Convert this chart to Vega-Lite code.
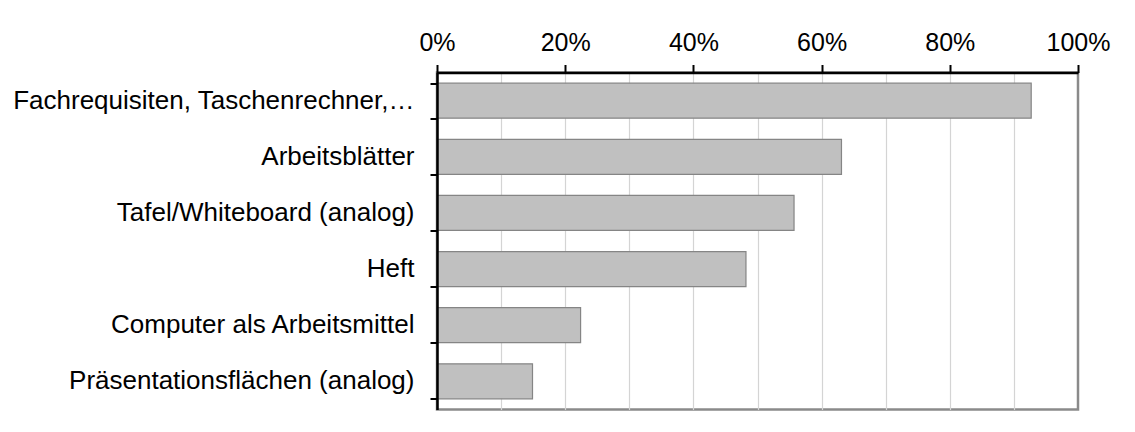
{
  "$schema": "https://vega.github.io/schema/vega-lite/v6.json",
  "width": 641,
  "height": 337,
  "autosize": {"type": "none"},
  "padding": {"left": 437, "top": 72.5, "right": 57, "bottom": 22.5},
  "background": "white",
  "config": {
    "font": "Liberation Sans",
    "view": {"stroke": "#8a8a8a", "strokeWidth": 2.5},
    "axis": {"labelFont": "Liberation Sans", "labelFontSize": 25, "labelColor": "black", "title": null, "labelLimit": 0}
  },
  "data": {
    "values": [
      {"item": "Fachrequisiten, Taschenrechner,…", "share": 0.927},
      {"item": "Arbeitsblätter", "share": 0.631},
      {"item": "Tafel/Whiteboard (analog)", "share": 0.557},
      {"item": "Heft", "share": 0.482},
      {"item": "Computer als Arbeitsmittel", "share": 0.224},
      {"item": "Präsentationsflächen (analog)", "share": 0.149}
    ]
  },
  "resolve": {"axis": {"x": "independent", "y": "independent"}},
  "layer": [
    {
      "mark": {"type": "bar", "opacity": 0},
      "encoding": {
        "y": {"field": "item", "type": "nominal", "sort": null,
          "scale": {"paddingInner": 0.377, "paddingOuter": 0.19},
          "axis": {"orient": "left", "labels": false, "ticks": false, "domain": false, "grid": false}},
        "x": {"field": "share", "type": "quantitative",
          "scale": {"domain": [0, 1], "nice": false},
          "axis": {"orient": "top", "values": [0.1, 0.3, 0.5, 0.7, 0.9, 0.2, 0.4, 0.6, 0.8], "grid": true, "gridColor": "#d4d4d4", "gridWidth": 1.2, "labels": false, "ticks": false, "domain": false, "zindex": 0}}
      }
    },
    {
      "mark": {"type": "bar", "fill": "#c0c0c0", "stroke": "#858585", "strokeWidth": 1.2},
      "encoding": {
        "y": {"field": "item", "type": "nominal", "sort": null,
          "axis": {"orient": "left", "ticks": true, "tickBand": "extent", "tickSize": 7, "tickWidth": 2, "tickColor": "black", "labels": false, "domain": true, "domainColor": "black", "domainWidth": 2.5, "grid": false, "zindex": 2}},
        "x": {"field": "share", "type": "quantitative",
          "axis": {"orient": "top", "values": [0, 0.2, 0.4, 0.6, 0.8, 1], "format": "~%", "grid": false, "tickSize": 8, "tickWidth": 2, "tickColor": "black", "domain": true, "domainColor": "black", "domainWidth": 2.5, "labelPadding": 9, "labelFlush": false, "labelFontSize": 25, "labelFont": "Liberation Sans", "zindex": 2}}
      }
    },
    {
      "mark": {"type": "bar", "opacity": 0},
      "encoding": {
        "y": {"field": "item", "type": "nominal", "sort": null,
          "axis": {"orient": "left", "ticks": false, "tickSize": 0, "labelPadding": 23, "labelLimit": 0, "labelFontSize": 26, "labelFont": "Liberation Sans", "domain": false, "grid": false, "zindex": 2,
            "encode": {"labels": {"update": {"dx": {"signal": "indexof(datum.label, 'Fach') === 0 ? 14 : 0"}}}}}},
        "x": {"field": "share", "type": "quantitative",
          "axis": null}
      }
    }
  ]
}
